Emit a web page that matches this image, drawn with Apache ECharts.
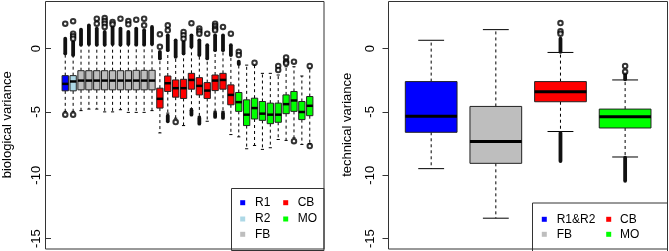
<!DOCTYPE html>
<html>
<head>
<meta charset="utf-8">
<script src="https://cdn.jsdelivr.net/npm/echarts@6/dist/echarts.min.js"></script>
<style>
  html, body { margin: 0; padding: 0; background: #fff; }
  #chart { width: 669px; height: 251px; }
</style>
</head>
<body>
<div id="chart"></div>
<script>
// ---- left panel: biological variance, one box per sample ----
var bioGroup = ['R1', 'R2',
  'FB', 'FB', 'FB', 'FB', 'FB', 'FB', 'FB', 'FB', 'FB', 'FB',
  'CB', 'CB', 'CB', 'CB', 'CB', 'CB', 'CB', 'CB', 'CB', 'CB',
  'MO', 'MO', 'MO', 'MO', 'MO', 'MO', 'MO', 'MO', 'MO', 'MO'];
var bioLow = [-4.96, -4.96,
  -4.90, -4.78, -4.78, -5.00, -5.00, -4.83, -5.04, -5.04, -5.04, -4.90,
  -6.66, -5.10, -5.50, -6.08, -4.75, -5.35, -5.74, -4.95, -4.95, -6.79,
  -6.97, -7.91, -7.65, -7.96, -7.83, -7.18, -7.25, -7.05, -7.57, -7.50];
var bioQ1 = [-3.34, -3.34,
  -3.26, -3.26, -3.26, -3.26, -3.26, -3.26, -3.26, -3.26, -3.26, -3.26,
  -4.70, -3.39, -3.84, -3.94, -3.21, -3.66, -3.94, -3.32, -3.21, -4.44,
  -4.96, -6.08, -5.56, -5.67, -5.93, -5.82, -5.14, -4.96, -5.61, -5.30];
var bioMed = [-2.79, -2.60,
  -2.53, -2.53, -2.53, -2.53, -2.53, -2.53, -2.53, -2.53, -2.53, -2.53,
  -3.97, -2.74, -3.13, -3.13, -2.48, -2.95, -3.32, -2.53, -2.48, -3.66,
  -4.23, -5.22, -4.70, -5.14, -5.22, -5.22, -4.39, -4.10, -5.01, -4.52];
var bioQ3 = [-2.14, -2.14,
  -1.75, -1.75, -1.75, -1.75, -1.75, -1.75, -1.75, -1.72, -1.72, -1.72,
  -3.13, -2.17, -2.48, -2.43, -1.96, -2.30, -2.69, -2.09, -1.96, -2.87,
  -3.47, -4.05, -3.92, -4.18, -4.31, -4.31, -3.66, -3.39, -4.18, -3.79];
var bioHigh = [-0.39, -0.52,
  0.30, 0.35, 0.30, 0.30, 0.35, 0.30, 0.35, 0.30, 0.30, 0.35,
  -0.78, -0.13, -0.65, -0.39, 0.13, -0.52, -0.78, -0.13, -0.13, -0.52,
  -1.23, -1.31, -1.31, -1.96, -1.96, -2.09, -1.44, -1.44, -2.17, -1.60];
// stacks of outliers so dense they merge: [box, from, to]
var bioDense = [
  [0, -0.39, 0.78], [1, -0.52, 0.52],
  [2, 0.30, 1.49], [3, 0.35, 1.83], [4, 0.30, 1.57], [5, 0.30, 1.31], [6, 0.35, 1.70],
  [7, 0.30, 1.57], [8, 0.35, 1.31], [9, 0.30, 1.57], [10, 0.30, 1.44], [11, 0.35, 1.70],
  [12, -0.78, -0.26], [13, -0.13, 1.04], [14, -0.65, 0.65], [15, -0.39, 0.52], [16, 0.13, 1.04],
  [17, -0.52, 0.65], [18, -0.78, 0.26], [19, -0.13, 1.04], [20, -0.13, 1.04], [21, -0.52, 0.26],
  [22, -1.23, -1.04],
  [13, -5.74, -5.30], [16, -5.22, -4.88], [17, -5.93, -5.48], [19, -5.40, -5.09], [20, -5.48, -5.09]
];
// single outliers: [box, value]
var bioOut = [
  [0, 1.96], [0, -5.22], [1, 2.16], [1, 1.17], [1, 0.97], [1, 0.78], [1, -5.22],
  [4, 2.35], [4, 1.96], [5, 2.40], [5, 2.17], [5, 1.96], [5, 1.70], [6, 2.09], [6, 1.91],
  [7, 2.35], [8, 2.17], [8, 1.91], [9, 2.27], [10, 2.35], [10, 1.83],
  [12, 1.12], [12, 0.13], [13, 1.83], [13, 1.44], [14, -5.80], [15, 1.31], [15, 1.05], [15, 0.78],
  [16, 2.00], [17, 1.57], [17, 1.36], [17, 1.17], [18, 1.17], [19, 1.96], [19, 1.77], [19, 1.57],
  [19, 1.44], [20, 1.70], [21, 1.17],
  [22, -0.26], [22, -0.52], [24, -1.12], [27, -1.38], [27, -1.70], [28, -0.70], [28, -1.04],
  [28, -1.17], [29, -1.04], [29, -7.31], [31, -1.38], [31, -7.70]
];

// ---- right panel: technical variance ----
var techGroup = ['R1&R2', 'FB', 'CB', 'MO'];
var techLow = [-9.48, -13.39, -6.55, -8.56];
var techQ1 = [-6.61, -9.06, -4.20, -6.27];
var techMed = [-5.35, -7.34, -3.42, -5.38];
var techQ3 = [-2.61, -4.57, -2.61, -4.78];
var techHigh = [0.65, 1.49, -0.31, -2.48];
var techDense = [[2, -0.26, 0.78], [2, -8.88, -6.66], [3, -2.43, -2.01], [3, -10.44, -8.62]];
var techOut = [[2, 2.01], [2, 1.36], [2, 1.17], [3, -1.38], [3, -1.83]];

var yTicks = [0, -5, -10, -15];
var yMin = -15.75, yMax = 3.71;

var groupColor = {
  'R1': '#0000ff', 'R2': '#add8e6', 'R1&R2': '#0000ff',
  'FB': '#bebebe', 'CB': '#ff0000', 'MO': '#00ff00'
};
var FONT = '"Liberation Sans", Arial, sans-serif';

function boxData(low, q1, med, q3, high) {
  return low.map(function (v, i) { return [i, v, q1[i], med[i], q3[i], high[i]]; });
}

function boxRenderer(groups, medWidth) {
  return function (params, api) {
    var x = api.value(0);
    var pLow = api.coord([x, api.value(1)]);
    var pQ1 = api.coord([x, api.value(2)]);
    var pMed = api.coord([x, api.value(3)]);
    var pQ3 = api.coord([x, api.value(4)]);
    var pHigh = api.coord([x, api.value(5)]);
    var band = api.size([1, 0])[0];
    var w = band * 0.8, cap = w * 0.5, cx = pMed[0];
    var dash = { stroke: '#000', lineWidth: 1, lineDash: [3, 3] };
    var solid = { stroke: '#000', lineWidth: 1 };
    return {
      type: 'group',
      children: [
        { type: 'line', shape: { x1: cx, y1: pQ3[1], x2: cx, y2: pHigh[1] }, style: dash },
        { type: 'line', shape: { x1: cx, y1: pQ1[1], x2: cx, y2: pLow[1] }, style: dash },
        { type: 'line', shape: { x1: cx - cap / 2, y1: pHigh[1], x2: cx + cap / 2, y2: pHigh[1] }, style: solid },
        { type: 'line', shape: { x1: cx - cap / 2, y1: pLow[1], x2: cx + cap / 2, y2: pLow[1] }, style: solid },
        { type: 'rect', shape: { x: cx - w / 2, y: pQ3[1], width: w, height: pQ1[1] - pQ3[1] },
          style: { fill: groupColor[groups[params.dataIndex]], stroke: '#222', lineWidth: 1 } },
        { type: 'line', shape: { x1: cx - w / 2, y1: pMed[1], x2: cx + w / 2, y2: pMed[1] },
          style: { stroke: '#000', lineWidth: medWidth } }
      ]
    };
  };
}

function denseRenderer(width) {
  return function (params, api) {
    var a = api.coord([api.value(0), api.value(1)]);
    var b = api.coord([api.value(0), api.value(2)]);
    return { type: 'line', shape: { x1: a[0], y1: a[1], x2: b[0], y2: b[1] },
      style: { stroke: '#111', lineWidth: width, lineCap: 'round' } };
  };
}

function yAxisFor(gridIndex, name, offset, nameGap, labelMargin) {
  return {
    type: 'value', gridIndex: gridIndex, position: 'left', min: yMin, max: yMax, offset: offset,
    name: name, nameLocation: 'middle', nameGap: nameGap,
    nameTextStyle: { fontFamily: FONT, fontSize: 13, color: '#000' },
    axisLine: { show: false },
    splitLine: { show: false },
    axisTick: { show: true, length: 6, customValues: yTicks, lineStyle: { color: '#333' } },
    axisLabel: { customValues: yTicks, rotate: 90, margin: labelMargin, align: 'center', verticalAlign: 'middle',
      fontFamily: FONT, fontSize: 13, color: '#000' }
  };
}

function xAxisFor(gridIndex, cats) {
  return {
    type: 'category', gridIndex: gridIndex, data: cats,
    axisLine: { show: false }, axisTick: { show: false }, axisLabel: { show: false }, splitLine: { show: false }
  };
}

// legend built from the group names
function legendGraphic(box, cols, rowY, names) {
  var els = [{ type: 'rect', shape: box, style: { fill: '#fff', stroke: '#333', lineWidth: 1 }, z: 10 }];
  names.forEach(function (col, c) {
    col.forEach(function (nm, r) {
      els.push({ type: 'rect', shape: { x: cols[c][0] - 2.5, y: rowY[r] - 2.5, width: 5, height: 5 },
        style: { fill: groupColor[nm] }, z: 11 });
      els.push({ type: 'text', x: cols[c][1], y: rowY[r],
        style: { text: nm, font: '12px ' + FONT, fill: '#000', align: 'left', verticalAlign: 'middle' }, z: 11 });
    });
  });
  return els;
}

var bioCats = bioGroup.map(function (g, i) { return g + (i + 1); });

var graphics = [
  { type: 'rect', shape: { x: 45.5, y: 1.5, width: 278.5, height: 247.5 }, style: { fill: 'none', stroke: '#333', lineWidth: 1 }, z: 12 },
  { type: 'rect', shape: { x: 388.5, y: 1.5, width: 279, height: 247.5 }, style: { fill: 'none', stroke: '#333', lineWidth: 1 }, z: 12 }
].concat(
  legendGraphic({ x: 231.5, y: 188.5, width: 92.5, height: 62 }, [[242.7, 255], [285.7, 297.7]],
    [202.7, 219, 234.3], [['R1', 'R2', 'FB'], ['CB', 'MO']]),
  legendGraphic({ x: 532.5, y: 203, width: 135, height: 50 }, [[544.3, 556.7], [608.7, 620]],
    [219.3, 234.3], [['R1&R2', 'FB'], ['CB', 'MO']])
);

var chart = echarts.init(document.getElementById('chart'), null, { renderer: 'canvas' });
chart.setOption({
  animation: false,
  backgroundColor: '#fff',
  textStyle: { fontFamily: FONT },
  grid: [
    { left: 55.8, top: 1.5, width: 257.9, height: 247.5 },
    { left: 398.85, top: 1.5, width: 258.6, height: 247.5 }
  ],
  xAxis: [xAxisFor(0, bioCats), xAxisFor(1, techGroup)],
  yAxis: [yAxisFor(0, 'biological variance', 10.3, 37, 14.7), yAxisFor(1, 'technical variance', 10.35, 35, 17.8)],
  graphic: graphics,
  series: [
    { type: 'custom', xAxisIndex: 0, yAxisIndex: 0, renderItem: boxRenderer(bioGroup, 2.5),
      data: boxData(bioLow, bioQ1, bioMed, bioQ3, bioHigh), encode: { x: 0, y: [1, 2, 3, 4, 5] }, z: 2 },
    { type: 'custom', xAxisIndex: 0, yAxisIndex: 0, renderItem: denseRenderer(3.8),
      data: bioDense, encode: { x: 0, y: [1, 2] }, z: 3 },
    { type: 'scatter', xAxisIndex: 0, yAxisIndex: 0, data: bioOut, symbol: 'emptyCircle', symbolSize: 4.5,
      itemStyle: { color: '#000', borderWidth: 0.7 }, z: 4 },
    { type: 'custom', xAxisIndex: 1, yAxisIndex: 1, renderItem: boxRenderer(techGroup, 3),
      data: boxData(techLow, techQ1, techMed, techQ3, techHigh), encode: { x: 0, y: [1, 2, 3, 4, 5] }, z: 2 },
    { type: 'custom', xAxisIndex: 1, yAxisIndex: 1, renderItem: denseRenderer(3.8),
      data: techDense, encode: { x: 0, y: [1, 2] }, z: 3 },
    { type: 'scatter', xAxisIndex: 1, yAxisIndex: 1, data: techOut, symbol: 'emptyCircle', symbolSize: 4.5,
      itemStyle: { color: '#000', borderWidth: 0.7 }, z: 4 }
  ]
});
</script>
</body>
</html>
